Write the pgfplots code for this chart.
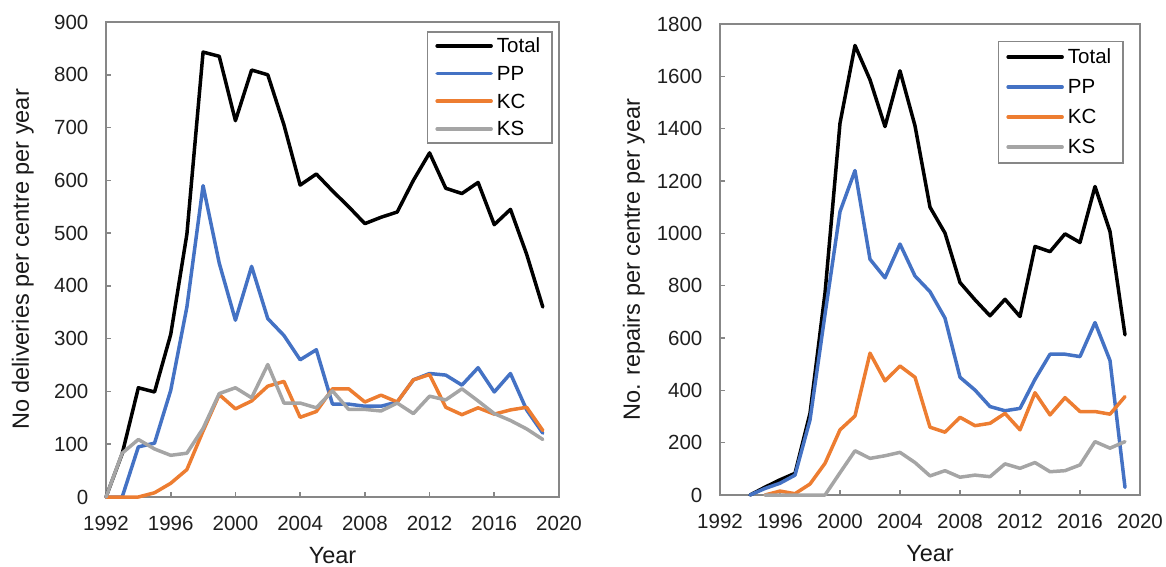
\documentclass[border=0pt]{standalone}
\usepackage{fontspec}
\setmainfont{Liberation Sans}
\usepackage{pgfplots}
\pgfplotsset{compat=1.18}
\definecolor{axgray}{HTML}{878787}
\definecolor{xlblue}{HTML}{4472C4}
\definecolor{xlorange}{HTML}{ED7D31}
\definecolor{xlgray}{HTML}{A5A5A5}
\pgfplotsset{
  mystyle/.style={
    scale only axis,
    xmin=1992, xmax=2020, xtick={1992,1996,...,2020},
    ymin=0,
    /pgf/number format/1000 sep={},
    /pgf/number format/assume math mode=true,
    axis line style={draw=axgray, line width=0.8bp},
    tick style={draw=axgray, line width=0.8bp},
    tick align=inside, major tick length=2.5bp,
    xtick pos=bottom, ytick pos=left,
    ticklabel style={font=\fontsize{10.25bp}{12bp}\selectfont, text=black!88},
    xticklabel style={yshift=-6.1bp},
    yticklabel style={xshift=-5.3bp},
    label style={font=\fontsize{11.75bp}{14bp}\selectfont, text=black!90},
    xlabel style={at={(axis description cs:0.5,0)}, anchor=base, yshift=-33bp},
    clip=false,
    every axis plot/.append style={line width=1.75bp, line join=round, line cap=round},
    legend cell align=left,
    legend image code/.code={\draw[##1, line width=1.75bp, line cap=round] (0bp,0bp) -- (27bp,0bp);},
    legend style={draw=axgray, line width=0.8bp, fill=white, inner xsep=4bp,
       font=\fontsize{10.25bp}{12bp}\selectfont,
       nodes={inner xsep=2bp, inner ysep=0pt, text height=8.4bp, text depth=1.6bp},
       anchor=north east, at={(axis description cs:1,1)}},
  }
}
\pgfplotstableread{
year total pp kc ks
1992 0 0 0 0
1993 82 0 0 83
1994 207 95 0 109
1995 199 102 8 91
1996 308 202 26 79
1997 498 360 52 83
1998 843 590 125 130
1999 835 443 194 196
2000 713 335 167 207
2001 809 437 182 188
2002 800 338 210 251
2003 705 306 219 178
2004 591 260 151 178
2005 612 279 162 169
2006 580 176 205 201
2007 550 176 205 166
2008 518 172 180 166
2009 530 172 193 163
2010 540 180 180 178
2011 600 222 222 158
2012 652 234 232 191
2013 585 231 170 184
2014 575 212 156 205
2015 596 245 169 182
2016 516 199 157 158
2017 545 234 165 145
2018 460 165 170 129
2019 360 121 126 109
}\deliv
\pgfplotstableread{
year total pp
1994 0 0
1995 30 25
1996 58 45
1997 83 76
1998 312 287
1999 771 690
2000 1421 1083
2001 1718 1240
2002 1587 901
2003 1408 830
2004 1621 959
2005 1411 837
2006 1100 777
2007 1001 676
2008 812 450
2009 746 401
2010 685 338
2011 748 322
2012 682 331
2013 950 442
2014 930 538
2015 998 538
2016 965 529
2017 1179 659
2018 1007 514
2019 612 29
}\repA
\pgfplotstableread{
year kc ks
1995 0 0
1996 15 0
1997 5 0
1998 42 0
1999 121 0
2000 249 85
2001 302 169
2002 542 140
2003 436 150
2004 493 163
2005 450 124
2006 259 73
2007 240 93
2008 297 68
2009 265 76
2010 274 70
2011 312 119
2012 249 102
2013 391 124
2014 306 89
2015 372 93
2016 319 115
2017 319 204
2018 309 179
2019 376 204
}\repB
\begin{document}
\begin{tikzpicture}
\useasboundingbox (0bp,0bp) rectangle (583bp,-283.5bp);
\begin{axis}[mystyle,
  at={(53bp,-248.5bp)}, anchor=south west,
  width=226.5bp, height=237.5bp,
  ymax=900, ytick={0,100,...,900},
  xlabel={Year}, ylabel={No deliveries per centre per year},
  ylabel style={at={(axis description cs:-0.170,0.5)}, anchor=base},
  legend style={xshift=-3bp, yshift=-4.5bp, inner ysep=2bp, row sep=3.85bp}]
\addplot[black] table[x=year,y=total] {\deliv};
\addplot[xlblue] table[x=year,y=pp] {\deliv};
\addplot[xlorange] table[x=year,y=kc] {\deliv};
\addplot[xlgray] table[x=year,y=ks] {\deliv};
\legend{Total,PP,KC,KS}
\end{axis}
\begin{axis}[mystyle,
  at={(360bp,-247.5bp)}, anchor=south west,
  width=210bp, height=235.5bp,
  ymax=1800, ytick={0,200,...,1800},
  xlabel={Year}, ylabel={No. repairs per centre per year},
  ylabel style={at={(axis description cs:-0.1905,0.5)}, anchor=base},
  legend style={xshift=-8bp, yshift=-8.35bp, inner ysep=2.8bp, row sep=5bp}]
\addplot[black] table[x=year,y=total] {\repA};
\addplot[xlblue] table[x=year,y=pp] {\repA};
\addplot[xlorange] table[x=year,y=kc] {\repB};
\addplot[xlgray] table[x=year,y=ks] {\repB};
\legend{Total,PP,KC,KS}
\end{axis}
\end{tikzpicture}
\end{document}
